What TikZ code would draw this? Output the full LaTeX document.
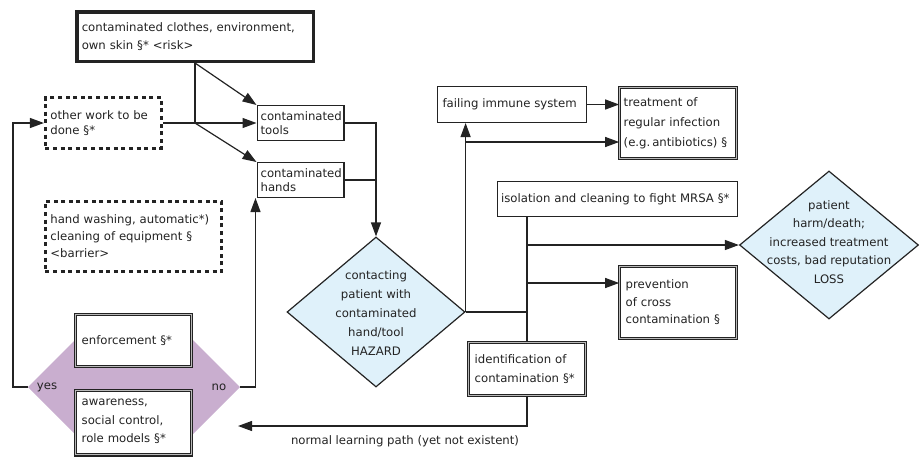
\documentclass[tikz,border=0pt]{standalone}
\usepackage{fontspec}
\setmainfont{DejaVu Sans}
\usetikzlibrary{arrows.meta,shapes.geometric}
\definecolor{lilac}{RGB}{201,174,207}
\definecolor{pale}{RGB}{223,241,250}
\definecolor{ink}{RGB}{35,35,35}
\tikzset{
  tx/.style={font=\fontsize{11.7}{#1}\selectfont, text=ink},
  tx/.default=17,
  box/.style={draw=ink, line width=1.2pt, fill=white, inner xsep=5pt, inner ysep=0pt, align=left, text=ink},
  dbox/.style={box, line width=1.1pt, double=gray!55, double distance=1.2pt, inner xsep=6pt},
  dotbox/.style={box, line width=3pt, dash pattern=on 4pt off 3.6pt},
  thickbox/.style={box, line width=3.5pt},
  ln/.style={draw=ink, line width=1.2pt},
  arr/.style={ln, -{Triangle[length=14pt,width=10pt]}},
  dia/.style={diamond, inner sep=0pt}
}
\begin{document}
\begin{tikzpicture}[x=1pt,y=-1pt]
\useasboundingbox (0,0) rectangle (921,459);
\clip (0,0) rectangle (921,459);

% purple decision shape with its two boxes
\coordinate (dl) at (28,387);
\coordinate (dr) at (240,387);
\fill[lilac] (dl) -- (76,339) -- (192,339) -- (dr) -- (192,435) -- (76,435) -- cycle;
\node[dbox, tx, text width=103.6pt, minimum height=51.6pt] (enforce) at (133.5,340.5) {enforcement §*};
\node[dbox, tx=18.5, text width=103.6pt, anchor=north, inner ysep=9pt, text depth=40pt] (aware) at (133.5,389.7) {awareness,\\social control,\\role models §*};
\node[tx] (yes) at (47,387) {yes};
\node[tx] (no) at (219,387) {no};

% left column
\node[thickbox, tx=18, text width=226.5pt, minimum height=49.5pt] (risk) at (195,36.5) {contaminated clothes, environment,\\own skin §* <risk>};
\node[dotbox, tx=15, text width=106.2pt, minimum height=50.2pt] (other) at (103.5,123) {other work to be\\done §*};
\node[dotbox, tx=17, text width=166.2pt, minimum height=70.2pt] (wash) at (133.5,236.5) {hand washing, automatic*)\\cleaning of equipment §\\<barrier>};

\node[box, tx=14.5, inner xsep=3.5pt, text width=79.8pt, minimum height=34.8pt] (tools) at (300.5,123) {contaminated\\tools};
\node[box, tx=14.5, inner xsep=3.5pt, text width=79.8pt, minimum height=34.8pt] (hands) at (300.5,180) {contaminated\\hands};

% hazard diamond
\node[dia, fill=pale, draw=ink, line width=1.2pt, minimum width=178pt, minimum height=150pt] (contact) at (376,312) {};
\node[tx=19, align=center] (contacttxt) at (376,313) {contacting\\patient with\\contaminated\\hand/tool\\HAZARD};

% right part
\node[box, tx, text width=138.8pt, minimum height=35.8pt] (fail) at (512,104.5) {failing immune system};
\node[dbox, tx=20, inner xsep=4pt, text width=108.6pt, minimum height=70.6pt] (treat) at (678,123) {treatment of\\regular infection\\\mbox{(e.g.\,antibiotics)~§}};
\node[box, tx, inner xsep=3.5pt, text width=232.8pt, minimum height=34.8pt] (iso) at (617.5,199) {isolation and cleaning to fight MRSA §*};
\node[dbox, tx=17.5, text width=104.6pt, minimum height=71.6pt] (prev) at (678,302.5) {prevention\\of cross\\contamination §};
\node[dbox, tx=18.3, text width=104.6pt, minimum height=52.6pt] (ident) at (527,369) {identification of\\contamination §*};

\node[dia, fill=pale, draw=ink, line width=1.2pt, minimum width=179pt, minimum height=148pt] (loss) at (829,245) {};
\node[tx=18.5, align=center] (losstxt) at (829,242) {patient\\harm/death;\\increased treatment\\costs, bad reputation\\LOSS};

\node[tx] (pathlbl) at (405,441) {normal learning path (yet not existent)};

% connectors
\coordinate (j1) at (195,123);
\draw[ln] (risk.south) -- (j1);
\draw[arr] (risk.south) -- (tools.north west);
\draw[arr] (other.east) -- (tools.west);
\draw[arr] (j1) -- (hands.north west);
\draw[arr] (tools.east) -| (contact.north);
\draw[ln] (hands.east) -- (hands.east -| contact.north);

\draw[arr] (contact.east) -- (contact.east |- fail.south);
\coordinate (j2) at (465,142);
\draw[arr] (j2) -- (j2 -| treat.west);
\draw[arr] (fail.east) -- (fail.east -| treat.west);
\draw[ln] (contact.east) -- (contact.east -| ident.north);
\draw[ln] (iso.south -| ident.north) -- (ident.north);
\draw[arr] (ident.north |- loss.west) -- (loss.west);
\coordinate (j3) at (527,283);
\draw[arr] (j3) -- (j3 -| prev.west);

\coordinate (lend) at (238,426);
\draw[arr] (ident.south) |- (lend);

\draw[arr] (dl) -- ++(-15,0) |- (other.west);
\draw[arr] (dr) -| ([xshift=-1pt]hands.south west);
\end{tikzpicture}
\end{document}
